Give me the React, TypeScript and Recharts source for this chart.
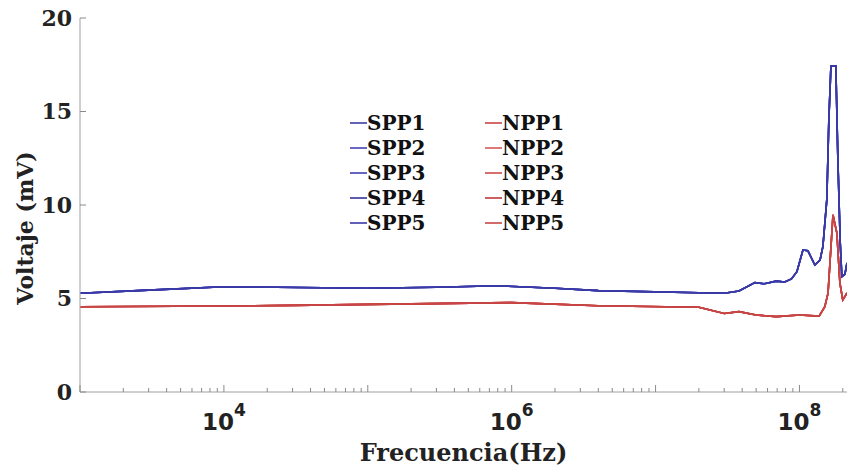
import { LineChart, Line, XAxis, YAxis, Legend } from "recharts";

// frecuencia (Hz) y voltaje (mV)
const sppFreq = [
  1e3, 3e3, 1e4, 1e5, 3e5, 8e5, 2e6, 4e6, 2e7, 3e7, 3.8e7, 4.9e7, 5.7e7, 6.9e7,
  7.9e7, 8.8e7, 9.6e7, 1.057e8, 1.145e8, 1.28e8, 1.39e8, 1.455e8, 1.55e8,
  1.6e8, 1.655e8, 1.79e8, 1.85e8, 1.92e8, 1.97e8, 2.07e8, 2.14e8,
];
const sppVolt = [
  5.28, 5.45, 5.63, 5.55, 5.6, 5.68, 5.55, 5.42, 5.31, 5.28, 5.4, 5.85, 5.79,
  5.93, 5.88, 6.05, 6.43, 7.59, 7.55, 6.79, 7.06, 7.77, 10.3, 14.5, 17.43,
  17.43, 12.4, 8.0, 6.17, 6.3, 6.9,
];

const nppFreq = [
  1e3, 1e4, 3e4, 1e6, 4e6, 2e7, 3e7, 3.8e7, 5e7, 6.9e7, 1e8, 1.37e8, 1.5e8,
  1.58e8, 1.71e8, 1.82e8, 1.91e8, 2e8, 2.14e8,
];
const nppVolt = [
  4.56, 4.6, 4.63, 4.78, 4.61, 4.53, 4.2, 4.3, 4.12, 4.03, 4.12, 4.06, 4.56,
  5.29, 9.47, 8.5, 5.83, 4.92, 5.3,
];

const sppNames = ["SPP1", "SPP2", "SPP3", "SPP4", "SPP5"];
const nppNames = ["NPP1", "NPP2", "NPP3", "NPP4", "NPP5"];
const sppColors = ["#3c3ca6", "#4545b8", "#4040b0", "#34349c", "#3a3aa8"];
const nppColors = ["#c84444", "#d05a5a", "#cc4c4c", "#bf3838", "#c84646"];

const yTicks = [0, 5, 10, 15, 20];
const xMajor = [1e4, 1e6, 1e8];
const xDomain = [1e3, 2.14e8];

const sppData = sppFreq.map((f, i) => ({ f, v: sppVolt[i] }));
const nppData = nppFreq.map((f, i) => ({ f, v: nppVolt[i] }));

// marcas menores de la escala logaritmica
const xTicks: number[] = [];
for (let e = 3; e <= 8; e++) {
  for (let m = 1; m <= 9; m++) {
    const t = m * Math.pow(10, e);
    if (t >= xDomain[0] && t <= xDomain[1]) xTicks.push(t);
  }
}

const serif = "'DejaVu Serif', serif";
const sans = "'DejaVu Sans', sans-serif";
const axisGray = "#a0a0a0";
const tickGray = "#8a8a8a";

const isMajor = (v: number) => Math.abs(Math.log10(v) - Math.round(Math.log10(v))) < 1e-9;

function BottomTick({ x, y, payload }: any) {
  const v = payload.value;
  const major = isMajor(v);
  return (
    <g>
      <line x1={x} x2={x} y1={y} y2={y - (major ? 7 : 4)} stroke={tickGray} strokeWidth={1} />
      {major && xMajor.includes(v) && (
        <text x={x} y={y + 38} textAnchor="middle" fontFamily={sans} fontWeight="bold" fontSize={23} fill="#222">
          <tspan>10</tspan>
          <tspan dy={-14} fontSize={17}>
            {Math.round(Math.log10(v))}
          </tspan>
        </text>
      )}
    </g>
  );
}

function TopTick({ x, y, payload }: any) {
  const major = isMajor(payload.value);
  return <line x1={x} x2={x} y1={y} y2={y + (major ? 7 : 4)} stroke={tickGray} strokeWidth={1} />;
}

function LeftTick({ x, y, payload }: any) {
  return (
    <g>
      <line x1={x} x2={x + 6} y1={y} y2={y} stroke={tickGray} strokeWidth={1} />
      <text x={x - 8} y={y} dy="0.36em" textAnchor="end" fontFamily={serif} fontWeight="bold" fontSize={22} fill="#222">
        {payload.value}
      </text>
    </g>
  );
}

function YTitle({ viewBox }: any) {
  const cx = viewBox.x + 33;
  const cy = viewBox.y + viewBox.height / 2 + 23;
  return (
    <text x={cx} y={cy} transform={`rotate(-90 ${cx} ${cy})`} textAnchor="middle" fontFamily={serif} fontWeight="bold" fontSize={22} fill="#222">
      Voltaje (mV)
    </text>
  );
}

function LegendBox() {
  const col = (names: string[], colors: string[]) => (
    <div style={{ width: 135 }}>
      {names.map((n, i) => (
        <div key={n} style={{ height: 25.2, display: "flex", alignItems: "center" }}>
          <span style={{ width: 17, height: 2, background: colors[i], opacity: 0.8, display: "inline-block" }} />
          <span style={{ fontFamily: serif, fontWeight: "bold", fontSize: 20, color: "#111" }}>{n}</span>
        </div>
      ))}
    </div>
  );
  return (
    <div style={{ display: "flex" }}>
      {col(sppNames, sppColors)}
      {col(nppNames, nppColors)}
    </div>
  );
}

export default function App() {
  return (
    <div style={{ position: "absolute", left: 0, top: 0, background: "#fff" }}>
      <LineChart width={847} height={467} margin={{ top: 18, right: 0, bottom: 0, left: 0 }}>
        <XAxis
          xAxisId="bottom"
          type="number"
          dataKey="f"
          scale="log"
          domain={xDomain}
          allowDataOverflow
          ticks={xTicks}
          interval={0}
          tickLine={false}
          tickSize={0}
          tickMargin={0}
          height={75}
          axisLine={{ stroke: axisGray }}
          tick={<BottomTick />}
          label={{
            value: "Frecuencia(Hz)",
            position: "insideBottom",
            offset: 6,
            style: { fontFamily: serif, fontWeight: "bold", fontSize: 24, fill: "#222" },
          }}
        />
        <XAxis
          xAxisId="top"
          orientation="top"
          type="number"
          dataKey="f"
          scale="log"
          domain={xDomain}
          allowDataOverflow
          ticks={xTicks}
          interval={0}
          tickLine={false}
          tickSize={0}
          tickMargin={0}
          height={0}
          axisLine={{ stroke: axisGray }}
          tick={<TopTick />}
        />
        <YAxis
          type="number"
          domain={[0, 20]}
          ticks={yTicks}
          interval={0}
          width={80}
          tickLine={false}
          tickSize={0}
          tickMargin={0}
          axisLine={{ stroke: axisGray }}
          tick={<LeftTick />}
          label={<YTitle />}
        />
        <Legend
          layout="horizontal"
          verticalAlign="middle"
          align="center"
          content={<LegendBox />}
          wrapperStyle={{ left: 350, top: 110, width: 280 }}
        />
        {sppNames.map((n, i) => (
          <Line
            key={n}
            xAxisId="bottom"
            data={sppData}
            dataKey="v"
            name={n}
            stroke={sppColors[i]}
            strokeWidth={1.6}
            dot={false}
            isAnimationActive={false}
          />
        ))}
        {nppNames.map((n, i) => (
          <Line
            key={n}
            xAxisId="bottom"
            data={nppData}
            dataKey="v"
            name={n}
            stroke={nppColors[i]}
            strokeWidth={1.6}
            dot={false}
            isAnimationActive={false}
          />
        ))}
      </LineChart>
    </div>
  );
}
